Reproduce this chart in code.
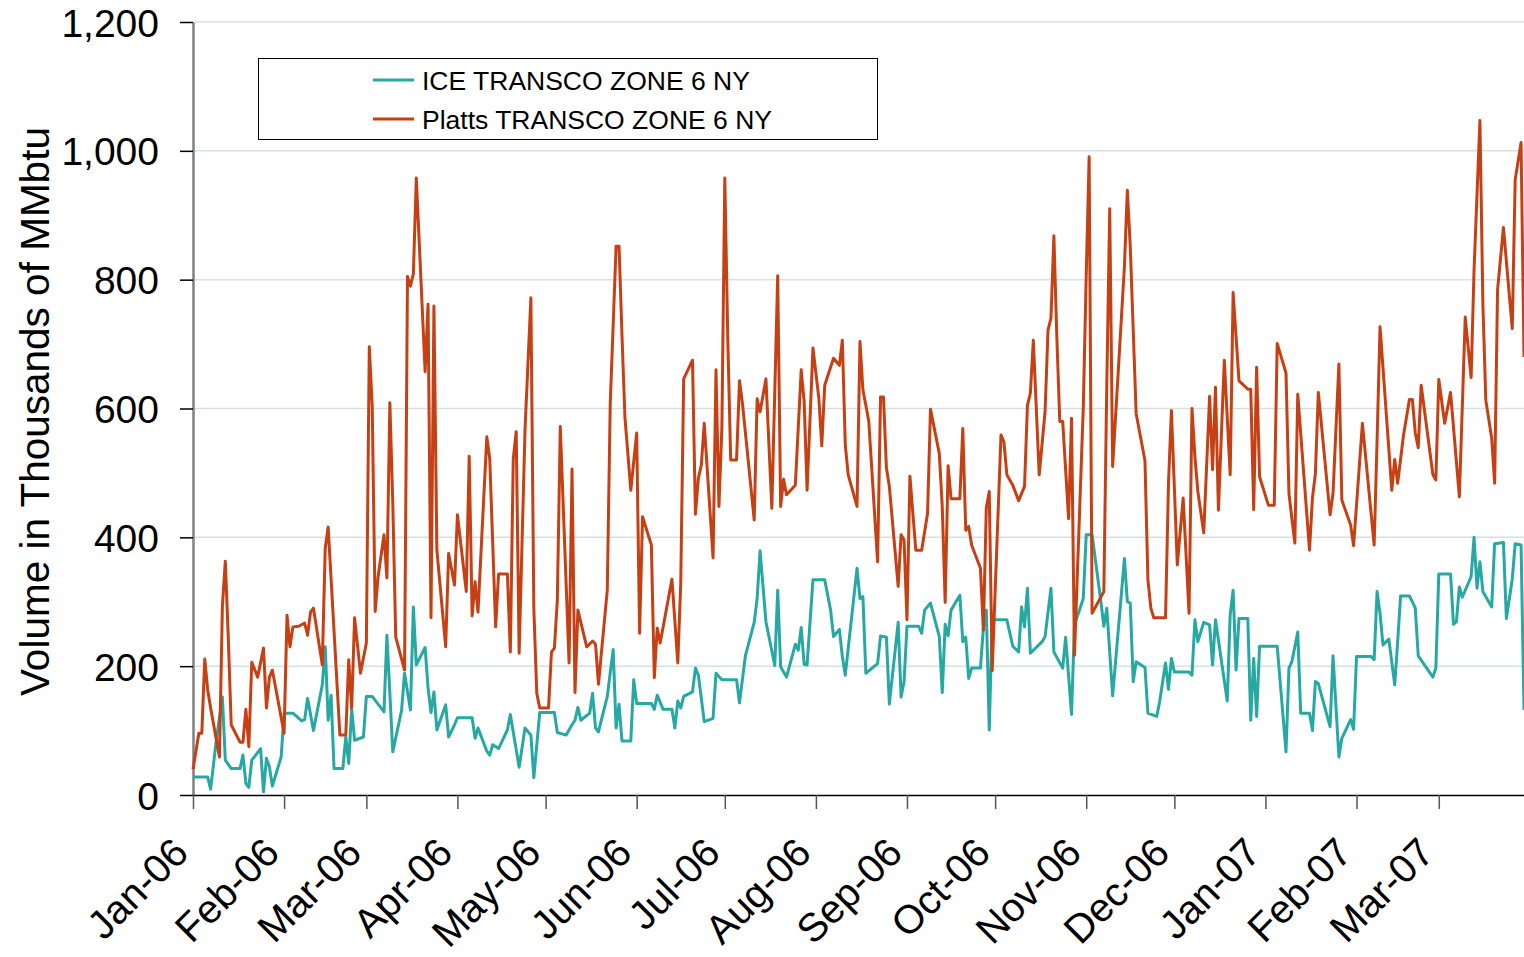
<!DOCTYPE html>
<html>
<head>
<meta charset="utf-8">
<script src="https://cdn.jsdelivr.net/npm/d3@7"></script>
<style>
  body { margin: 0; background: #ffffff; }
  svg { display: block; font-family: Arial, "Liberation Sans", sans-serif; }
</style>
</head>
<body>
<script>
// Series names and colours
let seriesNames = ["ICE TRANSCO ZONE 6 NY", "Platts TRANSCO ZONE 6 NY"];
let seriesColors = ["#26a8a3", "#c64014"];

// Axis ticks
let yTicks = [0, 200, 400, 600, 800, 1000, 1200];
let monthTicks = [
  "2006-01-01", "2006-02-01", "2006-03-01", "2006-04-01", "2006-05-01",
  "2006-06-01", "2006-07-01", "2006-08-01", "2006-09-01", "2006-10-01",
  "2006-11-01", "2006-12-01", "2007-01-01", "2007-02-01", "2007-03-01",
];
let dateRange = ["2006-01-01", "2007-03-30"];

// ICE volumes (thousands of MMbtu)
let iceData = [
  ["2006-01-01",28],["2006-01-06",28],["2006-01-07",9],["2006-01-09",88],["2006-01-11",152],["2006-01-12",54],
  ["2006-01-14",41],["2006-01-17",41],["2006-01-18",62],["2006-01-19",18],["2006-01-20",12],["2006-01-21",54],
  ["2006-01-24",72],["2006-01-25",5],["2006-01-26",57],["2006-01-27",44],["2006-01-28",14],["2006-01-31",59],
  ["2006-02-01",127],["2006-02-04",127],["2006-02-07",115],["2006-02-08",117],["2006-02-09",150],["2006-02-11",100],
  ["2006-02-14",171],["2006-02-15",230],["2006-02-16",116],["2006-02-17",155],["2006-02-18",41],["2006-02-21",41],
  ["2006-02-22",90],["2006-02-23",49],["2006-02-24",134],["2006-02-25",85],["2006-02-28",90],["2006-03-01",153],
  ["2006-03-03",153],["2006-03-07",129],["2006-03-08",248],["2006-03-10",67],["2006-03-13",132],["2006-03-14",189],
  ["2006-03-16",132],["2006-03-17",292],["2006-03-18",202],["2006-03-21",229],["2006-03-22",166],["2006-03-23",128],
  ["2006-03-24",160],["2006-03-25",101],["2006-03-28",140],["2006-03-29",90],["2006-03-31",109],["2006-04-01",120],
  ["2006-04-06",120],["2006-04-07",88],["2006-04-08",104],["2006-04-11",68],["2006-04-12",62],["2006-04-13",78],
  ["2006-04-15",72],["2006-04-18",101],["2006-04-19",125],["2006-04-22",43],["2006-04-24",104],["2006-04-26",93],
  ["2006-04-27",27],["2006-04-29",128],["2006-05-04",128],["2006-05-05",97],["2006-05-08",93],["2006-05-10",109],
  ["2006-05-11",116],["2006-05-12",136],["2006-05-13",116],["2006-05-16",127],["2006-05-17",158],["2006-05-18",104],
  ["2006-05-19",98],["2006-05-22",153],["2006-05-24",226],["2006-05-25",104],["2006-05-26",141],["2006-05-27",84],
  ["2006-05-30",84],["2006-05-31",179],["2006-06-01",142],["2006-06-06",142],["2006-06-07",133],["2006-06-08",155],
  ["2006-06-10",133],["2006-06-13",133],["2006-06-14",104],["2006-06-15",146],["2006-06-16",135],["2006-06-17",153],
  ["2006-06-20",160],["2006-06-21",197],["2006-06-22",186],["2006-06-24",114],["2006-06-27",119],["2006-06-28",189],
  ["2006-06-30",179],["2006-07-05",179],["2006-07-06",143],["2006-07-08",216],["2006-07-11",268],["2006-07-12",305],
  ["2006-07-13",379],["2006-07-15",269],["2006-07-18",201],["2006-07-19",318],["2006-07-20",199],["2006-07-22",183],
  ["2006-07-25",234],["2006-07-26",225],["2006-07-27",260],["2006-07-28",203],["2006-07-29",202],["2006-07-31",334],
  ["2006-08-04",334],["2006-08-06",287],["2006-08-07",246],["2006-08-09",257],["2006-08-10",215],["2006-08-11",186],
  ["2006-08-15",352],["2006-08-16",305],["2006-08-17",308],["2006-08-18",189],["2006-08-22",204],["2006-08-23",247],
  ["2006-08-25",245],["2006-08-26",141],["2006-08-29",268],["2006-08-30",152],["2006-08-31",176],["2006-09-01",262],
  ["2006-09-05",262],["2006-09-06",251],["2006-09-07",287],["2006-09-09",298],["2006-09-12",246],["2006-09-13",159],
  ["2006-09-14",265],["2006-09-15",247],["2006-09-16",287],["2006-09-19",310],["2006-09-20",238],["2006-09-21",245],
  ["2006-09-22",181],["2006-09-23",197],["2006-09-26",197],["2006-09-27",259],["2006-09-28",287],["2006-09-29",101],
  ["2006-09-30",272],["2006-10-05",272],["2006-10-07",231],["2006-10-09",222],["2006-10-10",292],["2006-10-11",261],
  ["2006-10-12",321],["2006-10-13",220],["2006-10-17",238],["2006-10-18",246],["2006-10-20",321],["2006-10-21",222],
  ["2006-10-24",197],["2006-10-25",245],["2006-10-27",125],["2006-10-28",264],["2006-10-31",305],["2006-11-01",404],
  ["2006-11-03",404],["2006-11-06",300],["2006-11-07",262],["2006-11-08",290],["2006-11-10",154],["2006-11-14",367],
  ["2006-11-15",300],["2006-11-16",298],["2006-11-17",176],["2006-11-18",207],["2006-11-21",198],["2006-11-22",127],
  ["2006-11-25",122],["2006-11-26",145],["2006-11-28",205],["2006-11-29",164],["2006-11-30",212],["2006-12-01",191],
  ["2006-12-06",191],["2006-12-07",186],["2006-12-08",272],["2006-12-09",238],["2006-12-11",268],["2006-12-13",264],
  ["2006-12-14",202],["2006-12-15",272],["2006-12-19",146],["2006-12-20",280],["2006-12-21",318],["2006-12-22",194],
  ["2006-12-23",274],["2006-12-26",274],["2006-12-27",116],["2006-12-28",212],["2006-12-29",122],["2006-12-30",231],
  ["2007-01-05",231],["2007-01-08",67],["2007-01-09",197],["2007-01-10",207],["2007-01-12",253],["2007-01-13",127],
  ["2007-01-16",127],["2007-01-17",100],["2007-01-18",176],["2007-01-19",173],["2007-01-23",106],["2007-01-24",216],
  ["2007-01-26",59],["2007-01-27",88],["2007-01-30",117],["2007-01-31",102],["2007-02-01",215],["2007-02-06",215],
  ["2007-02-07",210],["2007-02-08",316],["2007-02-09",282],["2007-02-10",233],["2007-02-12",242],["2007-02-14",171],
  ["2007-02-15",238],["2007-02-16",309],["2007-02-19",309],["2007-02-20",300],["2007-02-21",290],["2007-02-22",216],
  ["2007-02-27",183],["2007-02-28",197],["2007-03-01",343],["2007-03-05",343],["2007-03-06",265],["2007-03-07",269],
  ["2007-03-08",323],["2007-03-09",307],["2007-03-12",339],["2007-03-13",400],["2007-03-14",321],["2007-03-15",362],
  ["2007-03-16",316],["2007-03-19",292],["2007-03-20",390],["2007-03-23",392],["2007-03-24",274],["2007-03-26",335],
  ["2007-03-27",390],["2007-03-29",388],["2007-03-30",132],
];

// Platts volumes (thousands of MMbtu)
let plattsData = [
  ["2006-01-01",40],["2006-01-03",96],["2006-01-04",96],["2006-01-05",211],["2006-01-06",163],["2006-01-07",135],
  ["2006-01-10",59],["2006-01-11",293],["2006-01-12",363],["2006-01-13",245],["2006-01-14",109],["2006-01-17",82],
  ["2006-01-18",82],["2006-01-19",133],["2006-01-20",75],["2006-01-21",206],["2006-01-23",183],["2006-01-25",228],
  ["2006-01-26",135],["2006-01-27",183],["2006-01-28",194],["2006-02-01",96],["2006-02-02",279],["2006-02-03",230],
  ["2006-02-04",261],["2006-02-06",262],["2006-02-08",267],["2006-02-09",248],["2006-02-10",284],["2006-02-11",290],
  ["2006-02-14",202],["2006-02-15",383],["2006-02-16",416],["2006-02-20",93],["2006-02-22",93],["2006-02-23",210],
  ["2006-02-24",135],["2006-02-25",275],["2006-02-27",189],["2006-03-01",236],["2006-03-02",696],["2006-03-03",603],
  ["2006-03-04",285],["2006-03-05",339],["2006-03-07",404],["2006-03-08",337],["2006-03-09",609],["2006-03-10",453],
  ["2006-03-11",245],["2006-03-14",194],["2006-03-15",805],["2006-03-16",790],["2006-03-17",809],["2006-03-18",958],
  ["2006-03-21",657],["2006-03-22",762],["2006-03-23",275],["2006-03-24",759],["2006-03-25",380],["2006-03-28",230],
  ["2006-03-29",375],["2006-03-31",326],["2006-04-01",435],["2006-04-04",316],["2006-04-05",526],["2006-04-06",278],
  ["2006-04-07",331],["2006-04-08",284],["2006-04-11",556],["2006-04-12",522],["2006-04-14",261],["2006-04-15",343],
  ["2006-04-18",343],["2006-04-19",222],["2006-04-20",522],["2006-04-21",564],["2006-04-22",220],["2006-04-24",567],
  ["2006-04-26",772],["2006-04-27",289],["2006-04-28",158],["2006-04-29",135],["2006-05-02",135],["2006-05-03",222],
  ["2006-05-04",228],["2006-05-05",303],["2006-05-06",572],["2006-05-09",205],["2006-05-10",506],["2006-05-11",159],
  ["2006-05-12",287],["2006-05-15",230],["2006-05-17",239],["2006-05-18",234],["2006-05-19",172],["2006-05-22",318],
  ["2006-05-23",607],["2006-05-25",852],["2006-05-26",852],["2006-05-27",714],["2006-05-28",587],["2006-05-30",473],
  ["2006-06-01",562],["2006-06-02",251],["2006-06-03",432],["2006-06-06",388],["2006-06-07",182],["2006-06-08",259],
  ["2006-06-09",236],["2006-06-13",335],["2006-06-15",205],["2006-06-16",329],["2006-06-17",646],["2006-06-20",675],
  ["2006-06-21",436],["2006-06-22",492],["2006-06-23",512],["2006-06-24",577],["2006-06-27",368],["2006-06-28",660],
  ["2006-06-29",448],["2006-06-30",570],["2006-07-01",958],["2006-07-02",711],["2006-07-03",520],["2006-07-05",520],
  ["2006-07-06",643],["2006-07-07",608],["2006-07-11",427],["2006-07-12",615],["2006-07-13",595],["2006-07-15",646],
  ["2006-07-17",445],["2006-07-19",806],["2006-07-20",448],["2006-07-21",490],["2006-07-22",466],["2006-07-25",481],
  ["2006-07-27",660],["2006-07-28",611],["2006-07-29",473],["2006-07-31",694],["2006-08-02",616],["2006-08-03",542],
  ["2006-08-04",636],["2006-08-07",678],["2006-08-09",667],["2006-08-10",706],["2006-08-11",543],["2006-08-12",497],
  ["2006-08-15",448],["2006-08-16",704],["2006-08-17",629],["2006-08-18",605],["2006-08-19",580],["2006-08-22",362],
  ["2006-08-23",618],["2006-08-24",618],["2006-08-25",508],["2006-08-26",479],["2006-08-29",324],["2006-08-30",404],
  ["2006-08-31",396],["2006-09-01",272],["2006-09-02",495],["2006-09-04",380],["2006-09-06",380],["2006-09-08",437],
  ["2006-09-09",599],["2006-09-12",530],["2006-09-13",448],["2006-09-14",299],["2006-09-15",511],["2006-09-16",460],
  ["2006-09-19",460],["2006-09-20",569],["2006-09-21",411],["2006-09-22",417],["2006-09-23",388],["2006-09-26",352],
  ["2006-09-27",256],["2006-09-28",446],["2006-09-29",471],["2006-09-30",193],["2006-10-03",559],["2006-10-04",548],
  ["2006-10-05",497],["2006-10-07",481],["2006-10-09",457],["2006-10-11",479],["2006-10-12",605],["2006-10-13",624],
  ["2006-10-14",706],["2006-10-16",497],["2006-10-18",595],["2006-10-19",722],["2006-10-20",740],["2006-10-21",868],
  ["2006-10-22",711],["2006-10-23",580],["2006-10-24",580],["2006-10-26",429],["2006-10-27",585],["2006-10-28",217],
  ["2006-10-31",601],["2006-11-01",806],["2006-11-02",991],["2006-11-03",282],["2006-11-07",316],["2006-11-08",636],
  ["2006-11-09",910],["2006-11-10",510],["2006-11-14",820],["2006-11-15",939],["2006-11-16",851],["2006-11-18",592],
  ["2006-11-21",519],["2006-11-22",334],["2006-11-23",290],["2006-11-24",275],["2006-11-28",275],["2006-11-29",484],
  ["2006-11-30",597],["2006-12-02",357],["2006-12-04",461],["2006-12-06",282],["2006-12-07",600],["2006-12-08",525],
  ["2006-12-09",471],["2006-12-11",407],["2006-12-13",619],["2006-12-14",505],["2006-12-15",633],["2006-12-16",442],
  ["2006-12-18",675],["2006-12-20",497],["2006-12-21",780],["2006-12-23",643],["2006-12-26",630],["2006-12-27",630],
  ["2006-12-28",443],["2006-12-29",664],["2006-12-30",494],["2007-01-02",450],["2007-01-04",450],["2007-01-05",701],
  ["2007-01-08",655],["2007-01-09",468],["2007-01-11",391],["2007-01-12",622],["2007-01-16",380],["2007-01-17",461],
  ["2007-01-18",499],["2007-01-19",625],["2007-01-23",435],["2007-01-24",468],["2007-01-26",669],["2007-01-27",458],
  ["2007-01-30",419],["2007-01-31",387],["2007-02-03",577],["2007-02-07",388],["2007-02-08",551],["2007-02-09",727],
  ["2007-02-13",473],["2007-02-14",521],["2007-02-15",484],["2007-02-17",559],["2007-02-19",614],["2007-02-20",614],
  ["2007-02-21",562],["2007-02-22",539],["2007-02-23",636],["2007-02-27",497],["2007-02-28",489],["2007-03-01",645],
  ["2007-03-03",577],["2007-03-05",625],["2007-03-08",463],["2007-03-10",742],["2007-03-12",648],["2007-03-13",815],
  ["2007-03-15",1047],["2007-03-16",763],["2007-03-17",613],["2007-03-19",554],["2007-03-20",484],["2007-03-21",784],
  ["2007-03-23",881],["2007-03-26",724],["2007-03-27",955],["2007-03-29",1013],["2007-03-30",680],
];

// Define dimensions
let width = 1524;
let height = 957;
let margin = { top: 22, bottom: 162, left: 193, right: 0 };

let parseDate = d3.timeParse("%Y-%m-%d");

// Create SVG
let svg = d3
  .select("body")
  .append("svg")
  .attr("width", width)
  .attr("height", height)
  .style("background", "#ffffff");

// Scales
let xScale = d3
  .scaleTime()
  .domain(dateRange.map(parseDate))
  .range([margin.left, width - margin.right]);

let yScale = d3
  .scaleLinear()
  .domain([0, 1200])
  .range([height - margin.bottom, margin.top]);

// Gridlines
svg
  .append("g")
  .selectAll("line")
  .data(yTicks.filter((d) => d > 0))
  .join("line")
  .attr("x1", margin.left)
  .attr("x2", width - margin.right)
  .attr("y1", (d) => yScale(d))
  .attr("y2", (d) => yScale(d))
  .attr("stroke", "#d3e1e1")
  .attr("stroke-width", 1.5);

// Y axis
let yAxis = svg
  .append("g")
  .attr("transform", `translate(${margin.left}, 0)`)
  .call(
    d3
      .axisLeft(yScale)
      .tickValues(yTicks)
      .tickSize(13)
      .tickSizeOuter(0)
      .tickPadding(21)
      .tickFormat(d3.format(",")),
  );
yAxis.select(".domain").attr("stroke", "#808080").attr("stroke-width", 2.5);
yAxis.selectAll(".tick line").attr("stroke", "#000").attr("stroke-width", 1.5);
yAxis
  .selectAll("text")
  .attr("fill", "#000")
  .attr("dy", "0.36em")
  .style("font-size", "39px")
  .style("font-family", "Arial, 'Liberation Sans', sans-serif");

// X axis
let xAxis = svg
  .append("g")
  .attr("transform", `translate(0, ${height - margin.bottom})`)
  .call(
    d3
      .axisBottom(xScale)
      .tickValues(monthTicks.map(parseDate))
      .tickSize(14)
      .tickSizeOuter(0)
      .tickFormat(d3.timeFormat("%b-%y")),
  );
xAxis.select(".domain").attr("stroke", "#000").attr("stroke-width", 1.5);
xAxis.selectAll(".tick line").attr("stroke", "#555").attr("stroke-width", 1.5);
xAxis
  .selectAll("text")
  .attr("x", 0)
  .attr("y", 0)
  .attr("dy", "0.35em")
  .attr("text-anchor", "end")
  .attr("transform", "translate(-13, 50) rotate(-45)")
  .attr("fill", "#000")
  .style("font-size", "40px")
  .style("font-family", "Arial, 'Liberation Sans', sans-serif");

// Y axis label
svg
  .append("text")
  .attr("transform", `translate(49, ${(margin.top + height - margin.bottom) / 2 + 3}) rotate(-90)`)
  .text("Volume in Thousands of MMbtu")
  .style("text-anchor", "middle")
  .style("font-size", "40.5px");

// Lines
let line = d3
  .line()
  .x((d) => xScale(parseDate(d[0])))
  .y((d) => yScale(d[1]));

[iceData, plattsData].forEach((series, i) => {
  svg
    .append("path")
    .datum(series)
    .attr("d", line)
    .attr("fill", "none")
    .attr("stroke", seriesColors[i])
    .attr("stroke-width", 3)
    .attr("stroke-linejoin", "round");
});

// Legend
let legend = svg.append("g").attr("transform", "translate(258, 58)");
legend
  .append("rect")
  .attr("x", 0.5)
  .attr("y", 0.5)
  .attr("width", 619)
  .attr("height", 81)
  .attr("fill", "#fff")
  .attr("stroke", "#000")
  .attr("stroke-width", 1);

let entries = legend
  .selectAll(".entry")
  .data(seriesNames)
  .join("g")
  .attr("class", "entry")
  .attr("transform", (d, i) => `translate(0, ${22 + i * 39})`);

entries
  .append("line")
  .attr("x1", 115)
  .attr("x2", 156)
  .attr("stroke", (d, i) => seriesColors[i])
  .attr("stroke-width", 3);

entries
  .append("text")
  .attr("x", 164)
  .attr("dy", "0.36em")
  .text((d) => d)
  .style("font-size", "26.5px");
</script>
</body>
</html>
